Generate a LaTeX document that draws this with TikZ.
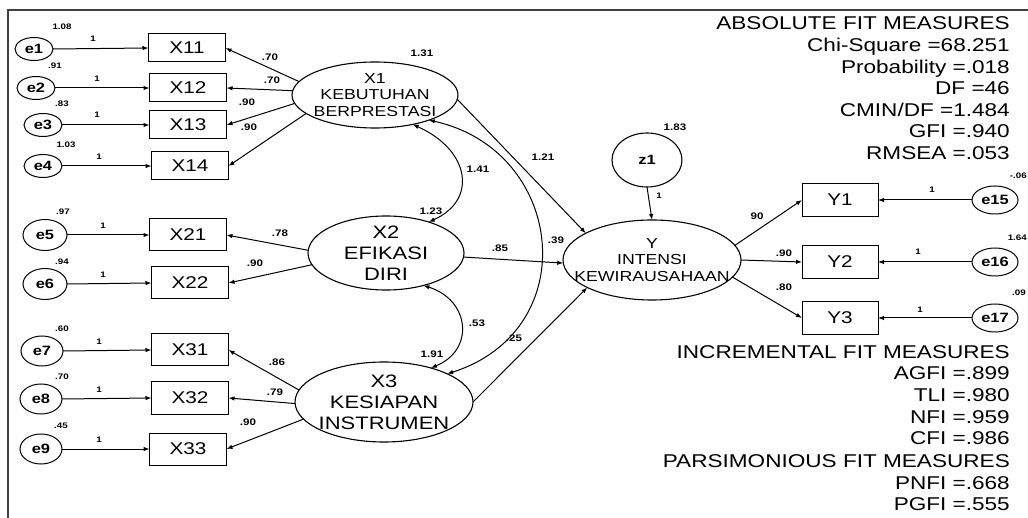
\documentclass[tikz,border=0pt]{standalone}
\usepackage{fontspec}
\setmainfont{Liberation Sans}[FakeStretch=1.22]
\usetikzlibrary{arrows.meta,shapes.geometric}
\newcommand\fitf{\fontsize{18.5}{21.5}\selectfont}
\newcommand\bigf{\fontsize{18}{21}\selectfont}
\newcommand\midf{\fontsize{14.5}{16.5}\selectfont}
\newcommand\boxf{\fontsize{17}{20}\selectfont}
\newcommand\errf{\bfseries\fontsize{13.5}{15}\selectfont}
\newcommand\plf{\bfseries\fontsize{9.5}{11}\selectfont}
\newcommand\vlf{\bfseries\fontsize{8}{9.5}\selectfont}
\begin{document}
\begin{tikzpicture}[x=1pt,y=-1pt,
  lat/.style={draw, ellipse, line width=1.1pt, inner sep=0pt, outer sep=0pt},
  err/.style={draw, ellipse, line width=1pt, inner sep=0pt, outer sep=0pt, font=\errf},
  obs/.style={draw, rectangle, line width=1pt, minimum width=77pt, inner sep=0pt, outer sep=0pt, font=\boxf},
  arr/.style={-{Latex[length=6pt,width=4.5pt]}, line width=1pt},
  cov/.style={{Latex[length=6pt,width=4.5pt]}-{Latex[length=6pt,width=4.5pt]}, line width=1pt},
  pl/.style={font=\plf, inner sep=0pt},
  vl/.style={font=\vlf, inner sep=0pt},
  fitt/.style={font=\fitf, anchor=base east, inner sep=0pt},
  ltext/.style={align=center, inner sep=0pt}
]
\useasboundingbox (0,0) rectangle (1028,518);
% frame
\draw[line width=1.6pt, black!75] (8,518) -- (8,10) -- (1028,10);

% latent variables
\node[lat, minimum width=166pt, minimum height=66pt] (X1) at (375,95) {};
\node[ltext, font=\midf] (X1t) at (X1) {X1\\KEBUTUHAN\\BERPRESTASI};
\node[lat, minimum width=156pt, minimum height=74pt] (X2) at (386,253) {};
\node[ltext, font=\bigf] (X2t) at (X2) {X2\\EFIKASI\\DIRI};
\node[lat, minimum width=178pt, minimum height=80pt] (X3) at (384,402) {};
\node[ltext, font=\bigf] (X3t) at (X3) {X3\\KESIAPAN\\INSTRUMEN};
\node[lat, minimum width=178pt, minimum height=80pt] (Y) at (652,260) {};
\node[ltext, font=\midf] (Yt) at (Y) {Y\\INTENSI\\KEWIRAUSAHAAN};
\node[lat, minimum width=70pt, minimum height=54pt, font=\errf] (z1) at (647,160) {z1};

% observed
\node[obs, minimum height=28pt] (X11) at (187,48) {X11};
\node[obs, minimum height=28pt] (X12) at (188,88) {X12};
\node[obs, minimum height=28pt] (X13) at (188,125) {X13};
\node[obs, minimum height=28pt] (X14) at (190,166) {X14};
\node[obs, minimum height=32pt] (X21) at (188,235) {X21};
\node[obs, minimum height=32pt] (X22) at (190,283) {X22};
\node[obs, minimum height=32pt] (X31) at (190,350) {X31};
\node[obs, minimum height=32pt] (X32) at (190,398) {X32};
\node[obs, minimum height=32pt] (X33) at (188,449) {X33};
\node[obs, minimum width=76pt, minimum height=33pt] (Y1) at (840,200) {Y1};
\node[obs, minimum width=76pt, minimum height=33pt] (Y2) at (840,262) {Y2};
\node[obs, minimum width=76pt, minimum height=33pt] (Y3) at (840,318) {Y3};

% errors
\node[err, minimum width=38pt, minimum height=23pt] (e1) at (34,49) {e1};
\node[err, minimum width=38pt, minimum height=23pt] (e2) at (36,88) {e2};
\node[err, minimum width=38pt, minimum height=23pt] (e3) at (43,125) {e3};
\node[err, minimum width=38pt, minimum height=23pt] (e4) at (43,166) {e4};
\node[err, minimum width=44pt, minimum height=31pt] (e5) at (45,235) {e5};
\node[err, minimum width=44pt, minimum height=31pt] (e6) at (45,284) {e6};
\node[err, minimum width=42pt, minimum height=30pt] (e7) at (42,351) {e7};
\node[err, minimum width=42pt, minimum height=30pt] (e8) at (41,399) {e8};
\node[err, minimum width=42pt, minimum height=30pt] (e9) at (41,449) {e9};
\node[err, minimum width=46pt, minimum height=28pt] (e15) at (995,200) {e15};
\node[err, minimum width=46pt, minimum height=28pt] (e16) at (995,262) {e16};
\node[err, minimum width=46pt, minimum height=28pt] (e17) at (995,318) {e17};

% error arrows
\foreach \e/\x in {e1/X11,e2/X12,e3/X13,e4/X14,e5/X21,e6/X22,e7/X31,e8/X32,e9/X33}
  \draw[arr] (\e.east) -- (\x.west);
\foreach \e/\x in {e15/Y1,e16/Y2,e17/Y3}
  \draw[arr] (\e.west) -- (\x.east);

% loadings
\draw[arr] (X1.170) -- (X11.east);
\draw[arr] (X1.177) -- (X12.east);
\draw[arr] (X1.186) -- (X13.east);
\draw[arr] (X1.195) -- (X14.east);
\draw[arr] (X2.178) -- (X21.east);
\draw[arr] (X2.189) -- (X22.east);
\draw[arr] (X3.172) -- (X31.east);
\draw[arr] (X3.181) -- (X32.east);
\draw[arr] (X3.192) -- (X33.east);
\draw[arr] (Y.10) -- (Y1.west);
\draw[arr] (Y.east) -- (Y2.west);
\draw[arr] (Y.348) -- (Y3.west);

% structural paths
\draw[arr] (X1.357) -- (Y.158);
\draw[arr] (X2.357) -- (Y.182);
\draw[arr] (X3.east) -- (Y.203);
\draw[arr] (z1.south) -- (Y.north);

% covariances
\draw[cov] (X1.322) .. controls (470,150) and (478,200) .. (X2.36);
\draw[cov] (X2.319) .. controls (470,300) and (475,350) .. (X3.36);
\draw[cov] (X1.335) .. controls (565,150) and (585,330) .. (X3.24);

% variance labels (small)
\node[vl] (v1) at (62,27) {1.08};
\node[vl] (v2) at (55,66) {.91};
\node[vl] (v3) at (62,104) {.83};
\node[vl] (v4) at (66,145) {1.03};
\node[vl] (v5) at (63,212) {.97};
\node[vl] (v6) at (62,262) {.94};
\node[vl] (v7) at (62,329) {.60};
\node[vl] (v8) at (62,377) {.70};
\node[vl] (v9) at (61,426) {.45};
\node[vl, anchor=east] (v15) at (1027,176) {-.06};
\node[vl, anchor=east] (v16) at (1027,238) {1.64};
\node[vl, anchor=east] (v17) at (1026,293) {.09};
% "1" labels
\node[vl] (o1) at (93,39) {1};
\node[vl] (o2) at (97,79) {1};
\node[vl] (o3) at (97,115) {1};
\node[vl] (o4) at (99,157) {1};
\node[vl] (o5) at (103,226) {1};
\node[vl] (o6) at (103,275) {1};
\node[vl] (o7) at (99,342) {1};
\node[vl] (o8) at (99,390) {1};
\node[vl] (o9) at (99,440) {1};
\node[vl] (o15) at (932,190) {1};
\node[vl] (o16) at (918,252) {1};
\node[vl] (o17) at (920,310) {1};
\node[vl] (oz) at (659,196) {1};

% path labels
\node[pl] (p11) at (270,57) {.70};
\node[pl] (p12) at (272,80) {.70};
\node[pl] (p13) at (247,102) {.90};
\node[pl] (p14) at (249,127) {.90};
\node[pl] (p21) at (280,233) {.78};
\node[pl] (p22) at (255,263) {.90};
\node[pl] (p31) at (277,362) {.86};
\node[pl] (p32) at (275,392) {.79};
\node[pl] (p33) at (248,422) {.90};
\node[pl] (py1) at (757,216) {90};
\node[pl] (py2) at (784,253) {.90};
\node[pl] (py3) at (784,287) {.80};
\node[pl] (s1) at (543,157) {1.21};
\node[pl] (s2) at (500,248) {.85};
\node[pl] (s3) at (514,338) {.25};
\node[pl] (c1) at (478,169) {1.41};
\node[pl] (c2) at (477,323) {.53};
\node[pl] (c3) at (556,240) {.39};
\node[pl] (vx1) at (422,53) {1.31};
\node[pl] (vx2) at (431,211) {1.23};
\node[pl] (vx3) at (432,354) {1.91};
\node[pl] (vz) at (675,127) {1.83};

% fit measures
\node[fitt] (f1) at (1010,29.6) {ABSOLUTE FIT MEASURES};
\node[fitt] (f2) at (1010,51.6) {Chi-Square =68.251};
\node[fitt] (f3) at (1010,73.6) {Probability =.018};
\node[fitt] (f4) at (1010,94.6) {DF =46};
\node[fitt] (f5) at (1010,116.6) {CMIN/DF =1.484};
\node[fitt] (f6) at (1010,137.6) {GFI =.940};
\node[fitt] (f7) at (1010,159.6) {RMSEA =.053};
\node[fitt] (f8) at (1010,358.6) {INCREMENTAL FIT MEASURES};
\node[fitt] (f9) at (1010,379.6) {AGFI =.899};
\node[fitt] (f10) at (1010,401.6) {TLI =.980};
\node[fitt] (f11) at (1010,423.6) {NFI =.959};
\node[fitt] (f12) at (1010,444.6) {CFI =.986};
\node[fitt] (f13) at (1010,467.6) {PARSIMONIOUS FIT MEASURES};
\node[fitt] (f14) at (1010,489.6) {PNFI =.668};
\node[fitt] (f15) at (1010,510.6) {PGFI =.555};
\end{tikzpicture}
\end{document}
